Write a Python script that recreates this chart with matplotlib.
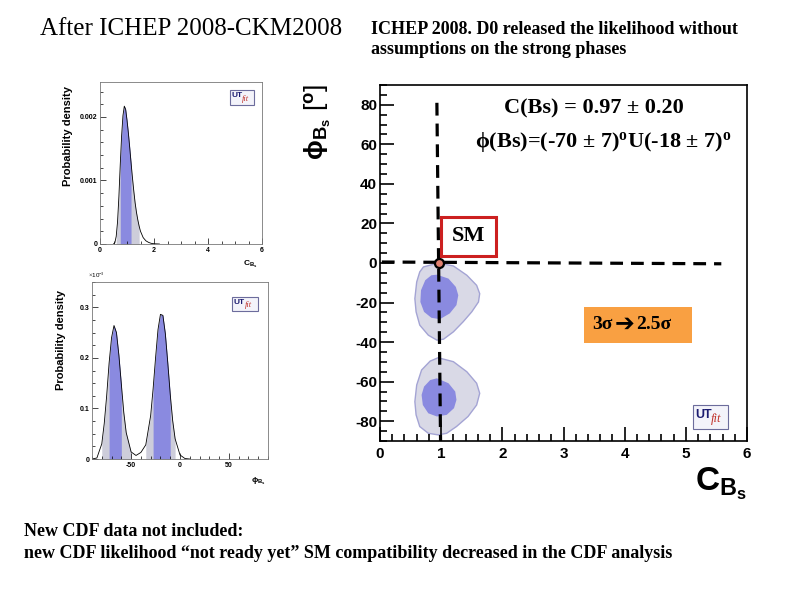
import numpy as np
import matplotlib
matplotlib.use("Agg")
import matplotlib.pyplot as plt
from matplotlib.patches import Rectangle
from matplotlib.ticker import MultipleLocator

plt.rcParams["font.family"] = ["Liberation Sans", "DejaVu Sans"]
plt.rcParams["axes.unicode_minus"] = False
plt.rcParams["mathtext.fontset"] = "custom"
plt.rcParams["mathtext.rm"] = "Liberation Serif"
plt.rcParams["mathtext.bf"] = "Liberation Serif:bold"
plt.rcParams["mathtext.sf"] = "Liberation Sans:bold"
plt.rcParams["mathtext.it"] = "Liberation Serif:italic"

# -----------------------------
# Data
# -----------------------------
# 1D p.d.f. of C_Bs (units of 1e-3)
c_grid = [0.50, 0.55, 0.60, 0.65, 0.70, 0.75, 0.80, 0.85, 0.90, 0.95,
          1.00, 1.05, 1.10, 1.15, 1.20, 1.25, 1.30, 1.35, 1.40, 1.45,
          1.50, 1.60, 1.70, 1.80, 1.90, 2.00, 2.20]
c_pdf = [0.00, 0.02, 0.12, 0.35, 0.75, 1.25, 1.70, 2.02, 2.17, 2.12,
         1.95, 1.75, 1.52, 1.28, 1.05, 0.84, 0.65, 0.50, 0.38, 0.28,
         0.20, 0.10, 0.05, 0.025, 0.01, 0.004, 0.00]
c_68 = [(0.75, 1.15)]
c_95 = [(0.60, 1.45)]

# 1D p.d.f. of phi_Bs (units of 1e-3)
phi_grid = [-90, -85, -80, -77.5, -75, -72.5, -70, -67.5, -65, -62.5,
            -60, -57.5, -55, -50, -45, -40, -35, -30, -27.5, -25,
            -22.5, -20, -17.5, -15, -12.5, -10, -7.5, -5, 0, 5, 10]
phi_pdf = [0.000, 0.002, 0.030, 0.070, 0.125, 0.190, 0.240, 0.264, 0.250, 0.205,
           0.148, 0.092, 0.052, 0.014, 0.007, 0.013, 0.028, 0.086, 0.139, 0.200,
           0.256, 0.286, 0.284, 0.248, 0.190, 0.128, 0.076, 0.040, 0.008, 0.001, 0.000]
phi_68 = [(-72.5, -60), (-27.5, -10)]
phi_95 = [(-80, -50), (-35, -5)]

# 2D contours (C_Bs, phi_Bs): 95% and 68% regions, two solutions
upper95_c = [0.71, 0.95, 1.20, 1.42, 1.58, 1.63, 1.61, 1.50, 1.36, 1.20,
             1.04, 0.93, 0.79, 0.65, 0.59, 0.57, 0.60, 0.65]
upper95_phi = [-2.0, 0.0, -1.5, -6.2, -11.3, -15.5, -19.7, -24.7, -29.7, -34.8,
               -38.5, -39.0, -36.5, -31.4, -24.7, -18.0, -9.6, -4.5]
upper68_c = [0.93, 1.12, 1.24, 1.28, 1.25, 1.14, 0.98, 0.84, 0.72, 0.66, 0.67, 0.74, 0.84]
upper68_phi = [-5.9, -7.9, -12.1, -16.3, -21.3, -25.5, -28.4, -27.7, -24.7, -19.7,
               -13.8, -8.7, -6.2]
lower95_c = [0.95, 1.20, 1.42, 1.58, 1.63, 1.58, 1.44, 1.25, 1.09, 0.95,
             0.79, 0.65, 0.59, 0.57, 0.60, 0.68, 0.82]
lower95_phi = [-47.9, -49.9, -55.0, -60.8, -65.9, -71.8, -77.6, -82.7, -86.1, -86.9,
               -86.1, -82.7, -76.8, -70.1, -61.7, -54.1, -49.6]
lower68_c = [0.93, 1.12, 1.23, 1.25, 1.21, 1.09, 0.93, 0.79, 0.70, 0.68, 0.72, 0.82]
lower68_phi = [-58.3, -60.8, -65.0, -69.2, -73.4, -76.8, -77.6, -76.0, -71.8,
               -66.7, -62.5, -59.2]

# Standard Model point and guide lines
sm_c, sm_phi = 0.96, 0.0
vline_c, vline_phi = [0.93, 0.99], [81, -90]
hline_c, hline_phi = [0.03, 5.58], [0.5, -0.4]

LIGHT = "#d9d9e6"
LIGHT_1D = "#cdcdda"
LIGHT_EDGE = "#a4a4d4"
DARK = "#8a8ae0"
W, H = 794, 595

fig = plt.figure(figsize=(W / 100, H / 100), dpi=100)


def px_axes(l, t, r, b):
    return fig.add_axes([l / W, 1 - b / H, (r - l) / W, (b - t) / H])


def utfit_logo(ax, x0, y0, x1, y1, fs):
    ax.add_patch(Rectangle((x0, y0), x1 - x0, y1 - y0, transform=ax.transAxes,
                           fc="#f3f3fa", ec="#6c6c9c", lw=0.8, zorder=5))
    ym = (y0 + y1) / 2
    ax.text(x0 + 0.06 * (x1 - x0), ym + 0.1 * (y1 - y0), "UT", transform=ax.transAxes,
            fontsize=fs, weight="bold", color="#1c1c70", ha="left", va="center", zorder=6)
    ax.text(x0 + 0.50 * (x1 - x0), ym - 0.08 * (y1 - y0), "fit", transform=ax.transAxes,
            fontsize=fs, style="italic", color="#c03028", family="Liberation Serif",
            ha="left", va="center", zorder=6)


def small_style(ax):
    for s in ax.spines.values():
        s.set_linewidth(0.6)
        s.set_color("#777777")
    ax.tick_params(which="both", direction="in", labelsize=5, pad=2,
                   top=False, right=False, width=0.5)
    ax.tick_params(which="major", length=4)
    ax.tick_params(which="minor", length=2)
    for lab in ax.get_xticklabels() + ax.get_yticklabels():
        lab.set_fontweight("bold")


# -----------------------------
# Top-left: C_Bs
# -----------------------------
ax1 = px_axes(100, 82, 262, 244)
cx = np.array(c_grid)
cy = np.array(c_pdf) * 1e-3
for lo, hi in c_95:
    ax1.fill_between(cx, cy, where=(cx >= lo) & (cx <= hi), color=LIGHT_1D, lw=0)
for lo, hi in c_68:
    ax1.fill_between(cx, cy, where=(cx >= lo) & (cx <= hi), color=DARK, lw=0)
ax1.plot(cx, cy, color="black", lw=0.6)
ax1.set_xlim(0, 6)
ax1.set_ylim(0, 0.00255)
ax1.set_xticks([0, 2, 4, 6])
ax1.set_yticks([0, 0.001, 0.002])
ax1.set_yticklabels(["0", "0.001", "0.002"])
ax1.xaxis.set_minor_locator(MultipleLocator(0.5))
ax1.yaxis.set_minor_locator(MultipleLocator(0.0002))
small_style(ax1)
utfit_logo(ax1, 0.80, 0.86, 0.95, 0.95, 6)
fig.text(68 / W, 1 - 136 / H, "Probability density", rotation=90, fontsize=8,
         weight="bold", ha="center", va="center")
fig.text(258 / W, 1 - 264 / H, r"$\mathsf{C_{B_s}}$", fontsize=6, ha="right", va="center")

# -----------------------------
# Bottom-left: phi_Bs
# -----------------------------
ax2 = px_axes(92, 282, 268, 459)
px_ = np.array(phi_grid)
py_ = np.array(phi_pdf)
for lo, hi in phi_95:
    ax2.fill_between(px_, py_, where=(px_ >= lo) & (px_ <= hi), color=LIGHT_1D, lw=0)
for lo, hi in phi_68:
    ax2.fill_between(px_, py_, where=(px_ >= lo) & (px_ <= hi), color=DARK, lw=0)
ax2.plot(px_, py_, color="black", lw=0.6)
ax2.set_xlim(-90, 90)
ax2.set_ylim(0, 0.35)
ax2.set_xticks([-50, 0, 50])
ax2.set_yticks([0, 0.1, 0.2, 0.3])
ax2.set_yticklabels(["0", "0.1", "0.2", "0.3"])
ax2.xaxis.set_minor_locator(MultipleLocator(10))
ax2.yaxis.set_minor_locator(MultipleLocator(0.025))
small_style(ax2)
utfit_logo(ax2, 0.795, 0.836, 0.943, 0.915, 6)
ax2.text(-0.02, 1.01, r"$\times$10$^{-3}$", transform=ax2.transAxes, fontsize=4.5,
         ha="left", va="bottom")
fig.text(61 / W, 1 - 340 / H, "Probability density", rotation=90, fontsize=8,
         weight="bold", ha="center", va="center")
fig.text(266 / W, 1 - 481 / H, r"$\mathsf{\phi_{B_s}}$", fontsize=6, ha="right", va="center")

# -----------------------------
# Main 2D plot: phi_Bs vs C_Bs
# -----------------------------
ax = px_axes(380, 85, 747, 441)
for cc, pp in [(upper95_c, upper95_phi), (lower95_c, lower95_phi)]:
    ax.fill(cc, pp, fc=LIGHT, ec=LIGHT_EDGE, lw=1.0, zorder=1)
for cc, pp in [(upper68_c, upper68_phi), (lower68_c, lower68_phi)]:
    ax.fill(cc, pp, fc=DARK, ec="none", zorder=2)

ax.plot(vline_c, vline_phi, color="black", lw=2.3, ls=(0, (4, 2.5)), zorder=3)
ax.plot(hline_c, hline_phi, color="black", lw=2.3, ls=(0, (4, 2.5)), zorder=3)
ax.plot([sm_c], [sm_phi], marker="o", ms=6.5, mfc="#e08070", mec="black", mew=1.6, zorder=4)

ax.set_xlim(0, 6)
ax.set_ylim(-90, 90)
ax.xaxis.set_major_locator(MultipleLocator(1))
ax.xaxis.set_minor_locator(MultipleLocator(0.2))
ax.yaxis.set_major_locator(MultipleLocator(20))
ax.yaxis.set_minor_locator(MultipleLocator(5))
ax.tick_params(which="both", direction="in", top=False, right=False, width=1.2,
               labelsize=11)
ax.tick_params(which="major", length=10)
ax.tick_params(which="minor", length=5)
ax.tick_params(axis="x", pad=4)
ax.tick_params(axis="y", pad=2)
for lab in ax.get_xticklabels() + ax.get_yticklabels():
    lab.set_fontweight("bold")
for s in ax.spines.values():
    s.set_linewidth(1.2)

fig.text(747 / W, 1 - 484 / H, r"$\mathsf{C_{B_s}}$", fontsize=24, ha="right", va="center")
fig.text(318 / W, 1 - 84 / H, r"$\mathsf{\phi_{B_s}}$ [$^{\mathsf{o}}$]", fontsize=19,
         rotation=90, ha="center", va="top")

serif = ["Liberation Serif", "DejaVu Serif", "DejaVu Sans"]
ax.text(3.50, 78, "C(Bs) = 0.97 ± 0.20", family=serif, fontsize=16, weight="bold",
        ha="center", va="center")
ax.text(3.65, 61.3, r"ϕ(Bs)=(-70 ± 7)$^{\mathbf{o}}$U(-18 ± 7)$^{\mathbf{o}}$",
        family=serif, fontsize=16, weight="bold", ha="center", va="center")

ax.add_patch(Rectangle((1.0, 3.7), 0.9, 19.7, fc="white", ec="#cc2020", lw=2.2, zorder=5))
ax.text(1.45, 13.5, "SM", family=serif, fontsize=16, weight="bold",
        ha="center", va="center", zorder=6)

ax.add_patch(Rectangle((3.33, -40.6), 1.77, 18.6, fc="#f9a042", ec="none", zorder=5))
ax.text(3.80, -31.3, "3σ", family=serif, fontsize=14, weight="bold",
        ha="right", va="center", zorder=6)
ax.text(3.99, -31.0, "➔", family=["DejaVu Sans"], fontsize=17, weight="bold",
        ha="center", va="center", zorder=6)
ax.text(4.18, -31.3, "2.5σ", family=serif, fontsize=14, weight="bold",
        ha="left", va="center", zorder=6)

utfit_logo(ax, 0.853, 0.034, 0.948, 0.101, 9)

# -----------------------------
# Slide text
# -----------------------------
fig.text(40 / W, 1 - 29 / H, "After ICHEP 2008-CKM2008", family=serif, fontsize=18,
         va="center", ha="left")
fig.text(371 / W, 1 - 29 / H, "ICHEP 2008. D0 released the likelihood without",
         family=serif, fontsize=13, weight="bold", va="center", ha="left")
fig.text(371 / W, 1 - 50 / H, "assumptions on the strong phases",
         family=serif, fontsize=13, weight="bold", va="center", ha="left")
fig.text(24 / W, 1 - 531 / H, "New CDF data not included:",
         family=serif, fontsize=13, weight="bold", va="center", ha="left")
fig.text(24 / W, 1 - 554 / H,
         "new CDF likelihood “not ready yet” SM compatibility decreased in the CDF analysis",
         family=serif, fontsize=13, weight="bold", va="center", ha="left")

fig.savefig("out.png", dpi=100)
